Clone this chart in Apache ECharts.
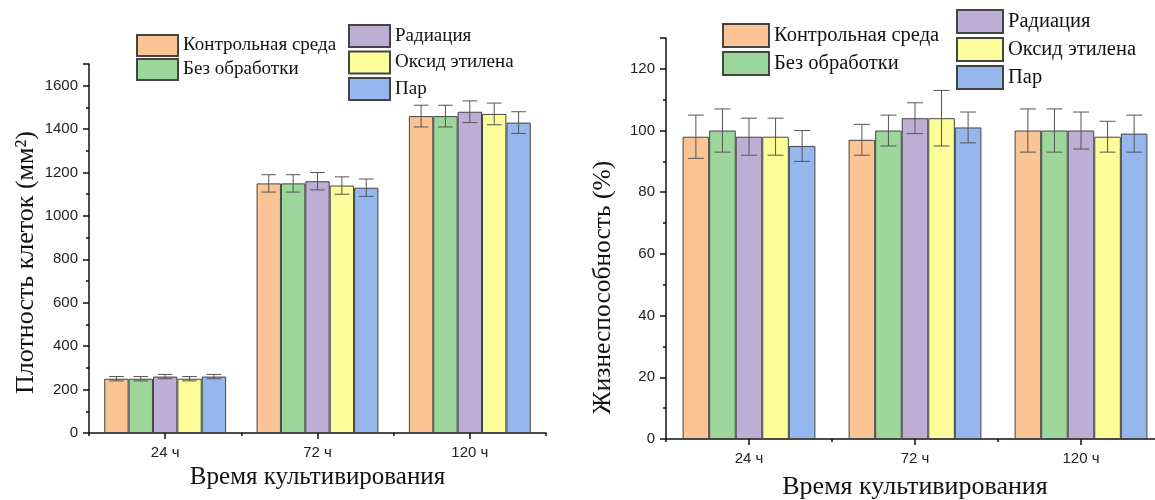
<!DOCTYPE html>
<html>
<head>
<meta charset="utf-8">
<script src="https://cdn.jsdelivr.net/npm/echarts@6/dist/echarts.min.js"></script>
<style>
html,body{margin:0;padding:0;background:#fff;}
#chart{width:1155px;height:500px;}
</style>
</head>
<body>
<div id="chart"></div>
<script>
// ---- data ----
var categories = ['24 ч', '72 ч', '120 ч'];
var seriesNames = ['Контрольная среда', 'Без обработки', 'Радиация', 'Оксид этилена', 'Пар'];

// Cell density (mm^2)
var densControl   = [250, 1150, 1460];
var densUntreated = [250, 1150, 1460];
var densRadiation = [260, 1160, 1480];
var densEO        = [250, 1140, 1470];
var densSteam     = [260, 1130, 1430];
var densControlErr   = [10, 40, 50];
var densUntreatedErr = [10, 40, 50];
var densRadiationErr = [10, 40, 50];
var densEOErr        = [10, 40, 50];
var densSteamErr     = [10, 40, 50];

// Viability (%)
var viaControl   = [98, 97, 100];
var viaUntreated = [100, 100, 100];
var viaRadiation = [98, 104, 100];
var viaEO        = [98, 104, 98];
var viaSteam     = [95, 101, 99];
var viaControlErr   = [7, 5, 7];
var viaUntreatedErr = [7, 5, 7];
var viaRadiationErr = [6, 5, 6];
var viaEOErr        = [6, 9, 5];
var viaSteamErr     = [5, 5, 6];

var colors = ['#FAC494', '#9CD69B', '#BEAED5', '#FDFC9B', '#96B7EE'];

var densVals = [densControl, densUntreated, densRadiation, densEO, densSteam];
var densErrs = [densControlErr, densUntreatedErr, densRadiationErr, densEOErr, densSteamErr];
var viaVals = [viaControl, viaUntreated, viaRadiation, viaEO, viaSteam];
var viaErrs = [viaControlErr, viaUntreatedErr, viaRadiationErr, viaEOErr, viaSteamErr];

var serif = '"Liberation Serif", "Times New Roman", serif';
var sans = '"Liberation Sans", Arial, sans-serif';

function errRender(idx, n) {
  return function (params, api) {
    var ci = api.value(0), lo = api.value(1), hi = api.value(2);
    var catW = api.size([1, 0])[0];
    var bw = catW * 0.8 / n;
    var base = api.coord([ci, lo]);
    var x = base[0] + (idx - (n - 1) / 2) * bw;
    var yLo = base[1];
    var yHi = api.coord([ci, hi])[1];
    var cap = bw * 0.3;
    var st = {stroke: '#555', lineWidth: 1};
    return {
      type: 'group',
      children: [
        {type: 'line', shape: {x1: x, y1: yLo, x2: x, y2: yHi}, style: st},
        {type: 'line', shape: {x1: x - cap, y1: yHi, x2: x + cap, y2: yHi}, style: st},
        {type: 'line', shape: {x1: x - cap, y1: yLo, x2: x + cap, y2: yLo}, style: st}
      ]
    };
  };
}

var series = [];
function addChart(vals, errs, xIdx, yIdx) {
  for (var i = 0; i < seriesNames.length; i++) {
    series.push({
      type: 'bar', name: seriesNames[i], xAxisIndex: xIdx, yAxisIndex: yIdx,
      data: vals[i], barGap: '0%', barCategoryGap: '20%',
      itemStyle: {color: colors[i], borderColor: '#444', borderWidth: 1},
      emphasis: {disabled: true}, animation: false
    });
  }
  for (var j = 0; j < seriesNames.length; j++) {
    var d = [];
    for (var k = 0; k < categories.length; k++) {
      d.push([k, vals[j][k] - errs[j][k], vals[j][k] + errs[j][k]]);
    }
    series.push({
      type: 'custom', xAxisIndex: xIdx, yAxisIndex: yIdx, z: 5,
      renderItem: errRender(j, seriesNames.length),
      encode: {x: 0, y: [1, 2]}, data: d, animation: false, silent: true
    });
  }
}
addChart(densVals, densErrs, 0, 0);
addChart(viaVals, viaErrs, 2, 1);

var axisLine = {show: true, lineStyle: {color: '#111', width: 1.5}};

function mainX(gi, nameGap, nameSize) {
  return {
    type: 'category', gridIndex: gi, data: categories,
    axisLine: axisLine,
    axisTick: {show: true, alignWithLabel: true, length: 6, lineStyle: {color: '#111', width: 1.5}},
    axisLabel: {color: '#222', fontFamily: sans, fontSize: 15, margin: 12},
    name: 'Время культивирования', nameLocation: 'middle', nameGap: nameGap,
    nameTextStyle: {fontFamily: serif, fontSize: nameSize, color: '#111'}
  };
}
function bndX(gi) {
  return {
    type: 'category', gridIndex: gi, data: categories, position: 'bottom',
    axisLine: {show: false},
    axisTick: {show: true, length: 3, lineStyle: {color: '#111', width: 1.5}},
    axisLabel: {show: false}
  };
}
function yAx(gi, max, interval, name, nameGap, nameSize, shift) {
  return {
    type: 'value', gridIndex: gi, min: 0, max: max, interval: interval,
    axisLine: axisLine,
    axisTick: {show: true, length: 6, lineStyle: {color: '#111', width: 1.5}},
    minorTick: {show: true, splitNumber: 2, length: 3, lineStyle: {color: '#111', width: 1.5}},
    splitLine: {show: false},
    axisLabel: {color: '#222', fontFamily: sans, fontSize: 15, margin: 11, showMaxLabel: false,
      formatter: function (v) { return String(v); }},
    name: name, nameLocation: 'middle', nameGap: nameGap,
    nameTextStyle: {fontFamily: serif, fontSize: nameSize, color: '#111', padding: [0, shift, 0, 0]}
  };
}

var legendText = function (size) { return {fontFamily: serif, fontSize: size, color: '#111', lineHeight: size}; };

var option = {
  backgroundColor: '#fff',
  animation: false,
  grid: [
    {left: 89, right: 609, top: 64, bottom: 67, containLabel: false, outerBoundsMode: 'none'},
    {left: 666, right: -9, top: 38, bottom: 61, containLabel: false, outerBoundsMode: 'none'}
  ],
  xAxis: [mainX(0, 30, 25), bndX(0), mainX(1, 35, 26), bndX(1)],
  yAxis: [
    yAx(0, 1700, 200, 'Плотность клеток (мм²)', 50, 26, 28),
    yAx(1, 130, 20, 'Жизнеспособность (%)', 50, 25.5, 98)
  ],
  legend: [
    {data: seriesNames.slice(0, 2), orient: 'vertical', left: 131, top: 29, itemWidth: 41, itemHeight: 21,
     itemGap: 1, textStyle: legendText(19), selectedMode: false, icon: 'rect'},
    {data: seriesNames.slice(2), orient: 'vertical', left: 343, top: 19, itemWidth: 41, itemHeight: 22,
     itemGap: 2.5, textStyle: legendText(19), selectedMode: false, icon: 'rect'},
    {data: seriesNames.slice(0, 2), orient: 'vertical', left: 717, top: 18, itemWidth: 46, itemHeight: 23,
     itemGap: 3, textStyle: legendText(20.5), selectedMode: false, icon: 'rect'},
    {data: seriesNames.slice(2), orient: 'vertical', left: 951, top: 4, itemWidth: 46, itemHeight: 23,
     itemGap: 3, textStyle: legendText(20.5), selectedMode: false, icon: 'rect'}
  ],
  series: series
};

var chart = echarts.init(document.getElementById('chart'), null, {renderer: 'canvas'});
chart.setOption(option);
</script>
</body>
</html>
